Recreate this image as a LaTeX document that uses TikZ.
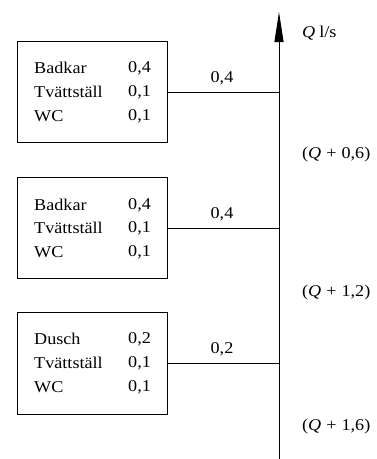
\documentclass[tikz,border=0pt]{standalone}
\usepackage{fontspec}
\setmainfont{Liberation Serif}[FakeStretch=1.1]
\usetikzlibrary{arrows.meta}
\begin{document}
\begin{tikzpicture}[x=1pt,y=-1pt,
  box/.style={draw,line width=1pt,minimum width=150pt,inner sep=0pt},
  txt/.style={anchor=west,inner sep=0pt,font=\fontsize{16.5}{18}\selectfont},
  lbl/.style={inner sep=0pt,font=\fontsize{16.5}{18}\selectfont},
  pipe/.style={line width=0.9pt},
  main/.style={line width=0.9pt,-{Triangle[length=30pt,width=9pt]}}]
\useasboundingbox (0,0) rectangle (376,459);
% main riser
\coordinate (bot) at (279,459);
\coordinate (top) at (279,12);
\draw[main] (bot) -- (top);
\node[lbl,anchor=west] (ql) at (302,33) {\textit{Q}\kern4pt l/s};
% boxes
\node[box,minimum height=101pt] (b1) at (92,91.5) {};
\node[box,minimum height=101pt] (b2) at (92,227.5) {};
\node[box,minimum height=102pt] (b3) at (92,363) {};
% box 1
\node[txt] (n11) at (34,68) {Badkar};
\node[txt] (n12) at (34,92) {Tvättställ};
\node[txt] (n13) at (34,116) {WC};
\node[txt] (v11) at (128,68) {0,4};
\node[txt] (v12) at (128,92) {0,1};
\node[txt] (v13) at (128,116) {0,1};
% box 2
\node[txt] (n21) at (34,205) {Badkar};
\node[txt] (n22) at (34,228) {Tvättställ};
\node[txt] (n23) at (34,252) {WC};
\node[txt] (v21) at (128,205) {0,4};
\node[txt] (v22) at (128,228) {0,1};
\node[txt] (v23) at (128,252) {0,1};
% box 3
\node[txt] (n31) at (34,339) {Dusch};
\node[txt] (n32) at (34,363) {Tvättställ};
\node[txt] (n33) at (34,387) {WC};
\node[txt] (v31) at (128,339) {0,2};
\node[txt] (v32) at (128,363) {0,1};
\node[txt] (v33) at (128,387) {0,1};
% junctions
\coordinate (j1) at (279,92);
\coordinate (j2) at (279,228);
\coordinate (j3) at (279,363);
\draw[pipe] (b1.east |- j1) -- (j1);
\draw[pipe] (b2.east |- j2) -- (j2);
\draw[pipe] (b3.east |- j3) -- (j3);
\node[lbl] (c1) at (222,78) {0,4};
\node[lbl] (c2) at (222,214) {0,4};
\node[lbl] (c3) at (222,349) {0,2};
% flow labels
\node[lbl,anchor=west] (f1) at (302,155) {(\textit{Q}\kern5pt+\kern5pt0,6)};
\node[lbl,anchor=west] (f2) at (302,293) {(\textit{Q}\kern5pt+\kern5pt1,2)};
\node[lbl,anchor=west] (f3) at (302,427) {(\textit{Q}\kern5pt+\kern5pt1,6)};
\end{tikzpicture}
\end{document}
